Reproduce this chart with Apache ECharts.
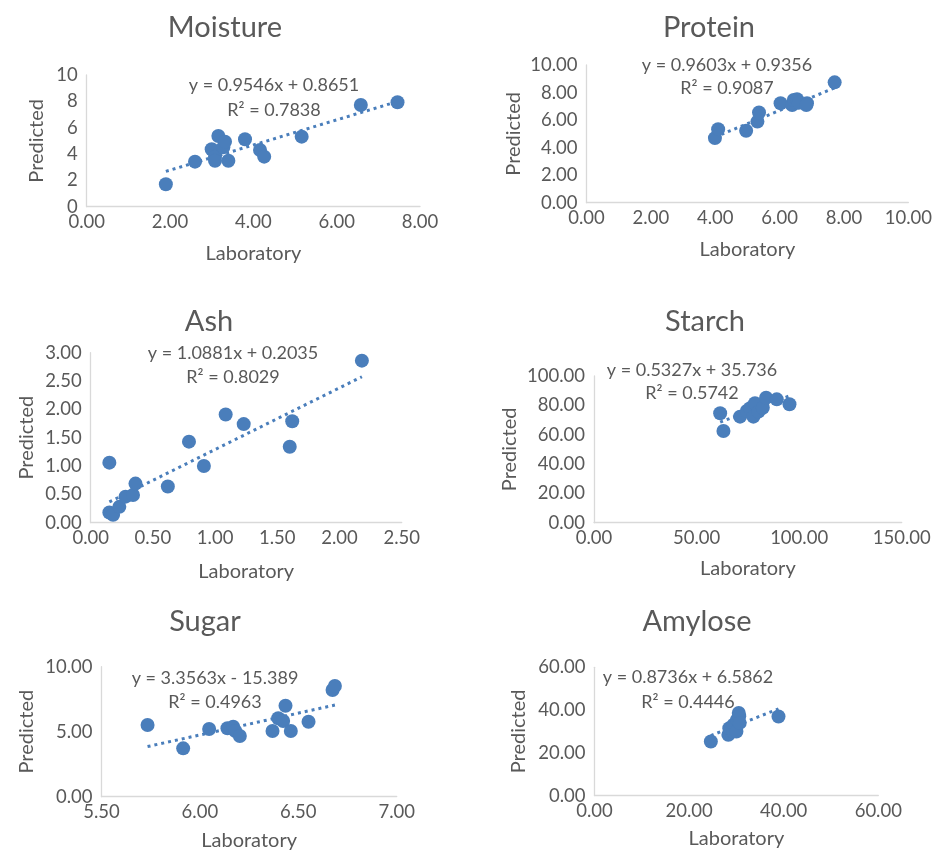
<!DOCTYPE html>
<html>
<head>
<meta charset="utf-8">
<script src="https://cdn.jsdelivr.net/npm/echarts@6/dist/echarts.min.js"></script>
<style>
html,body{margin:0;padding:0;background:#fff;}
#c{width:935px;height:852px;}
</style>
</head>
<body>
<div id="c"></div>
<script>
// ---- Data ----
const moistureLab  = [1.90, 2.60, 3.00, 3.08, 3.08, 3.16, 3.28, 3.32, 3.40, 3.80, 4.16, 4.26, 5.16, 6.58, 7.46];
const moisturePred = [1.70, 3.42, 4.36, 3.80, 3.49, 5.37, 4.51, 4.94, 3.49, 5.12, 4.31, 3.80, 5.32, 7.72, 7.93];
const moistureTrend = [0.9546, 0.8651];

const proteinLab  = [3.99, 4.09, 4.96, 5.31, 5.36, 6.03, 6.39, 6.44, 6.54, 6.59, 6.85, 6.83, 7.71];
const proteinPred = [4.69, 5.34, 5.22, 5.89, 6.55, 7.22, 7.10, 7.46, 7.51, 7.25, 7.22, 7.10, 8.74];
const proteinTrend = [0.9603, 0.9356];

const ashLab  = [0.15, 0.15, 0.18, 0.23, 0.28, 0.34, 0.36, 0.62, 0.79, 0.91, 1.085, 1.23, 1.60, 1.62, 2.18];
const ashPred = [1.06, 0.18, 0.14, 0.28, 0.46, 0.49, 0.69, 0.64, 1.43, 1.00, 1.91, 1.74, 1.34, 1.79, 2.86];
const ashTrend = [1.0881, 0.2035];

const starchLab  = [61.5, 63.1, 71.2, 74.5, 76.1, 77.7, 78.5, 80.2, 82.3, 83.9, 89.1, 95.3];
const starchPred = [74.6, 62.5, 72.3, 76.1, 78.0, 72.3, 81.4, 75.7, 78.4, 85.2, 84.1, 80.7];
const starchTrend = [0.5327, 35.736];

const sugarLab  = [5.734, 5.915, 6.047, 6.140, 6.169, 6.180, 6.203, 6.369, 6.398, 6.423, 6.435, 6.462, 6.552, 6.674, 6.686];
const sugarPred = [5.52, 3.72, 5.21, 5.26, 5.38, 5.05, 4.67, 5.05, 6.03, 5.82, 7.00, 5.05, 5.77, 8.21, 8.52];
const sugarTrend = [3.3563, -15.389];

const amyloseLab  = [24.6, 28.3, 28.5, 29.3, 29.4, 30.0, 30.1, 30.5, 30.6, 30.7, 38.9];
const amylosePred = [25.3, 28.4, 31.5, 30.0, 33.1, 30.0, 35.4, 38.6, 37.1, 34.0, 37.0];
const amyloseTrend = [0.8736, 6.5862];

const titles = ['Moisture', 'Protein', 'Ash', 'Starch', 'Sugar', 'Amylose'];
const equations = [
  ['y = 0.9546x + 0.8651', 'R² = 0.7838'],
  ['y = 0.9603x + 0.9356', 'R² = 0.9087'],
  ['y = 1.0881x + 0.2035', 'R² = 0.8029'],
  ['y = 0.5327x + 35.736', 'R² = 0.5742'],
  ['y = 3.3563x - 15.389', 'R² = 0.4963'],
  ['y = 0.8736x + 6.5862', 'R² = 0.4446']
];
// axis ranges: [min, max, interval]
const xRanges = [[0, 8, 2], [0, 10, 2], [0, 2.5, 0.5], [0, 150, 50], [5.5, 7, 0.5], [0, 60, 20]];
const yRanges = [[0, 10, 2], [0, 10, 2], [0, 3, 0.5], [0, 100, 20], [0, 10, 5], [0, 60, 20]];
const yDecimals = [0, 2, 2, 2, 2, 2];

const labs  = [moistureLab, proteinLab, ashLab, starchLab, sugarLab, amyloseLab];
const preds = [moisturePred, proteinPred, ashPred, starchPred, sugarPred, amylosePred];
const trends = [moistureTrend, proteinTrend, ashTrend, starchTrend, sugarTrend, amyloseTrend];

// ---- Layout ----
const grids = [
  {left: 86.7, top: 75, width: 333.3, height: 131.7},
  {left: 586.5, top: 65, width: 323.5, height: 137.7},
  {left: 90.7, top: 352.7, width: 311, height: 170},
  {left: 594, top: 376, width: 307.7, height: 146.7},
  {left: 101.5, top: 666.7, width: 295.2, height: 130},
  {left: 594.5, top: 667.3, width: 283.8, height: 128.3}
];
const titlePos = [[225, 28], [709, 28], [209, 322], [705, 322], [205, 622], [697, 622]];
const eqPos = [[274, 85, 110], [727, 65, 88], [233, 353, 377], [692, 370, 393], [215, 678, 702], [688, 677, 702]];
const xNameGap = [37, 37, 39, 36, 34, 33];
const yNameGap = [40, 63, 54, 74, 65, 66];

const FONT = 'Lato';
const GRAY = '#595959';
const BLUE = '#4a7ebb';
const AXIS = '#d9d9d9';

const option = {
  animation: false,
  backgroundColor: '#fff',
  grid: [], xAxis: [], yAxis: [], series: [], graphic: []
};

for (let i = 0; i < 6; i++) {
  const g = grids[i];
  option.grid.push({left: g.left, top: g.top, width: g.width, height: g.height, containLabel: false});
  option.xAxis.push({
    type: 'value', gridIndex: i,
    min: xRanges[i][0], max: xRanges[i][1], interval: xRanges[i][2],
    name: 'Laboratory', nameLocation: 'middle', nameGap: xNameGap[i],
    nameTextStyle: {color: GRAY, fontSize: 20, fontFamily: FONT},
    axisLine: {show: true, lineStyle: {color: AXIS, width: 1.3}},
    axisTick: {show: false},
    splitLine: {show: false},
    axisLabel: {color: GRAY, fontSize: 18.5, fontFamily: FONT, margin: 6,
      formatter: v => v.toFixed(2)}
  });
  option.yAxis.push({
    type: 'value', gridIndex: i,
    min: yRanges[i][0], max: yRanges[i][1], interval: yRanges[i][2],
    name: 'Predicted', nameLocation: 'middle', nameGap: yNameGap[i],
    nameTextStyle: {color: GRAY, fontSize: 20, fontFamily: FONT},
    axisLine: {show: true, lineStyle: {color: AXIS, width: 1.3}},
    axisTick: {show: false},
    splitLine: {show: false},
    axisLabel: {color: GRAY, fontSize: 18.5, fontFamily: FONT, margin: 9,
      formatter: (d => v => v.toFixed(d))(yDecimals[i])}
  });
  const xs = labs[i];
  const xmin = Math.min(...xs), xmax = Math.max(...xs);
  const t = trends[i];
  option.series.push({
    type: 'line', xAxisIndex: i, yAxisIndex: i,
    data: [[xmin, t[0] * xmin + t[1]], [xmax, t[0] * xmax + t[1]]],
    symbol: 'none', silent: true, z: 1,
    lineStyle: {color: BLUE, width: 3, type: [3, 4]}
  });
  option.series.push({
    type: 'scatter', xAxisIndex: i, yAxisIndex: i,
    data: xs.map((x, k) => [x, preds[i][k]]),
    symbol: 'circle', symbolSize: 14, z: 2,
    itemStyle: {color: BLUE, opacity: 1}
  });
  option.graphic.push({
    type: 'text', x: titlePos[i][0], y: titlePos[i][1],
    style: {text: titles[i], fill: GRAY, font: '29px Lato', textAlign: 'center', textVerticalAlign: 'middle', align: 'center', verticalAlign: 'middle'}
  });
  for (let j = 0; j < 2; j++) {
    option.graphic.push({
      type: 'text', x: eqPos[i][0], y: eqPos[i][1 + j],
      style: {text: equations[i][j], fill: GRAY, font: '18px Lato', textAlign: 'center', textVerticalAlign: 'middle', align: 'center', verticalAlign: 'middle'}
    });
  }
}

const chart = echarts.init(document.getElementById('c'), null, {renderer: 'canvas'});
chart.setOption(option);
</script>
</body>
</html>
